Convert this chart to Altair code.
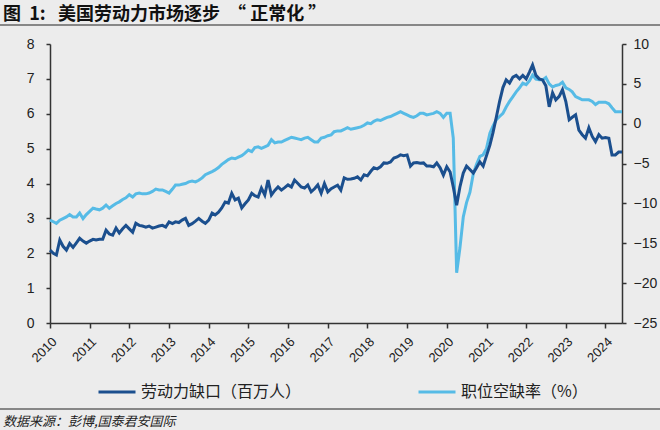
import altair as alt
import pandas as pd

# ---- data (monthly, Jan 2010 .. Jun 2024) ----
labor_gap = [
    2.09, 2.0, 1.95, 2.38, 2.2, 2.09, 2.28, 2.17, 2.3, 2.43, 2.35, 2.29,
    2.35, 2.4, 2.38, 2.4, 2.4, 2.66, 2.55, 2.52, 2.72, 2.58, 2.7, 2.8,
    2.7, 2.6, 2.86, 2.8, 2.78, 2.75, 2.78, 2.72, 2.75, 2.78, 2.8, 2.75,
    2.9, 2.85, 2.9, 2.88, 2.95, 3.0, 2.8, 2.85, 2.92, 3.0, 2.92, 2.86,
    2.95, 3.15, 3.1, 3.18, 3.3, 3.47, 3.44, 3.72, 3.53, 3.58, 3.3, 3.42,
    3.53, 3.72, 3.65, 3.61, 3.87, 3.67, 4.1, 3.67, 3.8, 3.9, 3.81, 3.88,
    3.96, 3.9, 4.1, 4.0, 3.9, 3.87, 3.96, 3.76, 3.85, 3.96, 3.72, 4.0,
    3.76, 3.85, 3.9, 3.95, 3.81, 4.16, 4.12, 4.13, 4.15, 4.19, 4.1, 4.25,
    4.22, 4.35, 4.45, 4.42, 4.48, 4.59, 4.58, 4.62, 4.73, 4.76, 4.82, 4.8,
    4.82, 4.5, 4.59, 4.6, 4.58, 4.59, 4.5, 4.5, 4.48, 4.59, 4.45, 4.24,
    4.48, 4.33, 3.9, 3.38, 3.9, 4.3, 4.5, 4.4, 4.3, 4.45, 4.62, 4.5,
    4.8, 5.1, 5.45, 5.9, 6.35, 6.75, 6.97, 6.88, 7.05, 7.1, 7.0, 7.1,
    7.0, 7.2, 7.4, 7.1, 7.0, 6.97, 6.8, 6.2, 6.6, 6.4, 6.5, 6.69,
    6.35, 5.83, 5.9, 5.97, 5.53, 5.4, 5.3, 5.6, 5.35, 5.2, 5.4, 5.3,
    5.32, 5.3, 4.82, 4.82, 4.9, 4.9,
]
vacancy = [
    -12.1, -12.3, -12.5, -12.1, -11.9, -11.7, -11.4, -11.7, -11.7, -11.2, -11.9, -11.4,
    -11.0, -10.6, -10.7, -10.8, -10.6, -10.2, -10.6, -10.3, -10.0, -9.8, -9.5, -9.3,
    -8.9, -9.2, -8.8, -8.7, -8.8, -8.8, -8.7, -8.5, -8.2, -8.3, -8.3, -8.5,
    -8.7, -8.2, -7.7, -7.7, -7.6, -7.5, -7.3, -7.2, -7.3, -7.1, -6.8, -6.4,
    -6.2, -6.0, -5.8, -5.5, -5.1, -4.8, -4.5, -4.3, -4.4, -4.2, -4.0, -3.7,
    -3.3, -3.5, -3.0, -2.9, -3.1, -2.9, -2.7, -2.0, -2.4, -2.3, -2.3, -2.1,
    -1.9, -1.7, -1.8, -1.9, -2.0, -1.8, -1.7, -2.0, -2.3, -2.3, -1.8, -1.7,
    -1.5, -1.4, -1.0, -0.9, -0.9, -0.7, -0.5, -0.7, -0.6, -0.5, -0.4, -0.2,
    0.1, 0.0, 0.3, 0.5, 0.4, 0.6, 0.8, 0.9, 1.1, 1.3, 1.5, 1.3,
    1.1, 0.9, 0.8, 1.0, 1.3, 1.3, 1.1, 1.2, 1.3, 1.5, 1.3, 0.8,
    1.3, 1.3, -1.8, -18.7, -15.6, -11.7, -9.9, -8.6, -6.3, -5.1, -4.1, -3.9,
    -3.1, -1.2, -0.3, 0.5, 0.9, 1.3, 2.1, 2.8, 3.4, 4.0, 4.5, 5.1,
    4.9, 5.4, 6.1, 5.6, 5.5, 5.5, 5.8, 5.0, 4.6, 4.8, 4.9, 5.2,
    4.5, 4.3, 4.0, 3.4, 3.2, 3.0, 3.0, 3.0, 2.8, 2.4, 2.7, 2.7,
    2.7, 2.5, 2.0, 1.5, 1.5, 1.5,
]
series_names = ["劳动力缺口（百万人）", "职位空缺率（%）"]
series_colors = ["#1B4F8E", "#56BBE6"]
left_ticks = [0, 1, 2, 3, 4, 5, 6, 7, 8]
right_ticks = [-25, -20, -15, -10, -5, 0, 5, 10]
year_ticks = list(range(2010, 2025))
NB = "\u00a0"
title_text = "图" + NB * 2 + "1:" + NB * 3 + "美国劳动力市场逐步" + NB * 2 + "“" + NB + "正常化" + NB + "”"
source_text = "数据来源：彭博,国泰君安国际"

n = min(len(labor_gap), len(vacancy))
dates = pd.date_range("2010-01-01", periods=n, freq="MS").strftime("%Y-%m-%dT00:00:00")
df = pd.DataFrame({
    "date": list(dates),
    "gap": labor_gap[:n],
    "vac": vacancy[:n],
    "s1": series_names[0],
    "s2": series_names[1],
})

AXIS_COLOR = "#333333"
LABEL_FONT = "Liberation Sans"
CJK = "Noto Sans CJK SC"

color_scale = alt.Scale(domain=series_names, range=series_colors)
legend = alt.Legend(
    orient="none", legendX=47, legendY=328, direction="horizontal",
    title=None, symbolType="stroke", symbolSize=1369, symbolStrokeWidth=3,
    labelFont=CJK, labelFontSize=16, labelColor="#222222", labelOffset=4,
    labelLimit=0, columnPadding=110,
)

x_enc = alt.X(
    "date:T",
    scale=alt.Scale(domain=[alt.DateTime(year=2010, month=1, date=1),
                            alt.DateTime(year=2024, month=6, date=1)]),
    axis=alt.Axis(
        values=[alt.DateTime(year=y, month=1, date=1) for y in year_ticks],
        format="%Y", labelAngle=-45, title=None, grid=False,
        domainColor=AXIS_COLOR, domainWidth=1.5, tickColor=AXIS_COLOR,
        tickWidth=1.5, tickSize=5, labelFont=LABEL_FONT, labelFontSize=13,
        labelColor="#222222", labelPadding=7,
    ),
)

base = alt.Chart(df)

light = base.mark_line(strokeWidth=3).encode(
    x=x_enc,
    y=alt.Y("vac:Q", scale=alt.Scale(domain=[-25, 10], nice=False, zero=False),
            axis=alt.Axis(orient="right", values=right_ticks, title=None, grid=False,
                          domainColor=AXIS_COLOR, domainWidth=1.5, tickColor=AXIS_COLOR,
                          tickWidth=1.5, tickSize=4, labelFont=LABEL_FONT,
                          labelFontSize=14, labelColor="#222222", labelPadding=7)),
    color=alt.Color("s2:N", scale=color_scale, legend=legend),
)

dark = base.mark_line(strokeWidth=3).encode(
    x=x_enc,
    y=alt.Y("gap:Q", scale=alt.Scale(domain=[0, 8], nice=False, zero=False),
            axis=alt.Axis(orient="left", values=left_ticks, title=None, grid=False,
                          domainColor=AXIS_COLOR, domainWidth=1.5, tickColor=AXIS_COLOR,
                          tickWidth=1.5, tickSize=4, labelFont=LABEL_FONT,
                          labelFontSize=14, labelColor="#222222", labelPadding=12)),
    color=alt.Color("s1:N", scale=color_scale, legend=legend),
)

one = pd.DataFrame({"t": [title_text], "s": [source_text]})
title_mark = alt.Chart(one).mark_text(
    align="left", baseline="alphabetic", font=CJK, fontSize=18, fontWeight="bold",
    color="#111111",
).encode(x=alt.value(-47), y=alt.value(-24), text="t:N")
source_mark = alt.Chart(one).mark_text(
    align="left", baseline="alphabetic", font=CJK, fontSize=13, fontStyle="italic",
    color="#222222",
).encode(x=alt.value(-47), y=alt.value(382), text="s:N")
top_rule = alt.Chart(one).mark_rule(color="#666666", strokeWidth=1.5).encode(
    x=alt.value(-50), x2=alt.value(610), y=alt.value(-19))
bottom_rule = alt.Chart(one).mark_rule(color="#666666", strokeWidth=1.5).encode(
    x=alt.value(-50), x2=alt.value(610), y=alt.value(365))

chart = alt.layer(
    light, dark, title_mark, source_mark, top_rule, bottom_rule
).resolve_scale(y="independent").properties(
    width=572, height=279,
    autosize=alt.AutoSizeParams(type="none"),
    padding={"left": 50, "top": 44, "right": 38, "bottom": 107},
    background="#ececec",
).configure_view(stroke=None)

chart.save("out.html", embed_options={"renderer": "svg", "actions": False})
